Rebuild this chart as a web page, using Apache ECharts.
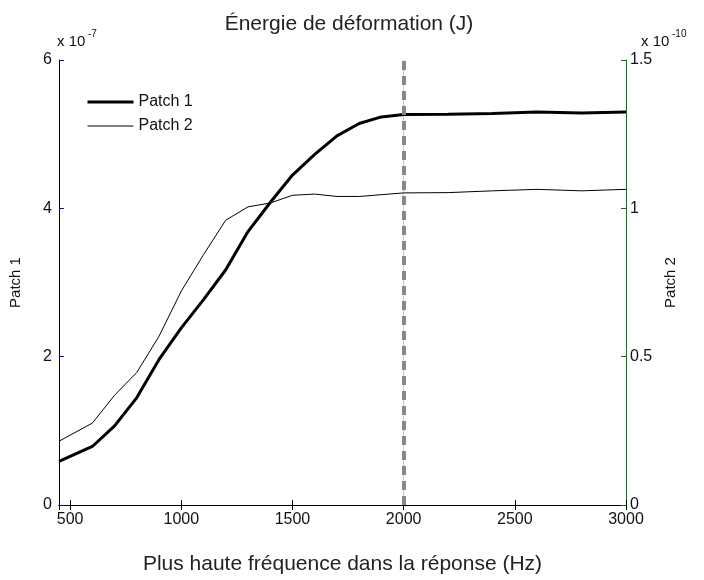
<!DOCTYPE html>
<html>
<head>
<meta charset="utf-8">
<script src="https://cdn.jsdelivr.net/npm/echarts@6/dist/echarts.min.js"></script>
<style>
html,body{margin:0;padding:0;background:#fff;}
#chart{width:704px;height:580px;}
</style>
</head>
<body>
<div id="chart"></div>
<script>
// Frequencies (Hz)
const freq = [450, 600, 700, 800, 900, 1000, 1100, 1200, 1300, 1400, 1500, 1600, 1700, 1800, 1900, 2000, 2200, 2400, 2600, 2800, 3000];
// Patch 1 strain energy, units of 1e-7 J (left axis)
const patch1 = [0.587, 0.789, 1.066, 1.448, 1.962, 2.388, 2.769, 3.172, 3.687, 4.079, 4.449, 4.727, 4.977, 5.144, 5.233, 5.265, 5.270, 5.280, 5.300, 5.285, 5.300];
// Patch 2 strain energy, units of 1e-10 J (right axis)
const patch2 = [0.215, 0.276, 0.370, 0.447, 0.569, 0.721, 0.844, 0.960, 1.005, 1.018, 1.044, 1.048, 1.040, 1.040, 1.046, 1.052, 1.053, 1.059, 1.064, 1.059, 1.064];
const seriesNames = ['Patch 1', 'Patch 2'];
const cutoffFreq = [2000];
const leftExp = '-7';
const rightExp = '-10';
const titleText = 'Énergie de déformation (J)';
const xName = 'Plus haute fréquence dans la réponse (Hz)';

const FONT = "'Liberation Sans', Arial, Helvetica, sans-serif";
const chart = echarts.init(document.getElementById('chart'), null, {renderer: 'canvas'});

const pairs = (xs, ys) => xs.map((x, i) => [x, ys[i]]);
const plain = v => String(v);

chart.setOption({
  backgroundColor: '#fff',
  animation: false,
  textStyle: {fontFamily: FONT, color: '#000'},
  title: {
    text: titleText,
    left: 344, top: 9, textAlign: 'center',
    textStyle: {fontFamily: FONT, fontSize: 21, fontWeight: 'normal', color: '#222'}
  },
  legend: {
    orient: 'vertical',
    left: 81, top: 89,
    itemWidth: 46, itemHeight: 14, itemGap: 8,
    itemStyle: {opacity: 0},
    textStyle: {fontFamily: FONT, fontSize: 16, color: '#111'},
    data: [
      {name: seriesNames[0], lineStyle: {width: 3, color: '#000'}},
      {name: seriesNames[1], lineStyle: {width: 1, color: '#000'}}
    ]
  },
  grid: {left: 58, right: 78, top: 60, bottom: 74},
  xAxis: [{
    type: 'value', min: 450, max: 3000, position: 'bottom',
    name: xName, nameLocation: 'middle', nameGap: 49,
    nameTextStyle: {fontFamily: FONT, fontSize: 21, color: '#222'},
    axisLine: {show: true, lineStyle: {color: '#000', width: 1}},
    axisTick: {show: true, inside: true, length: 5, lineStyle: {color: '#000'}},
    axisLabel: {showMinLabel: false, margin: 7, formatter: plain, fontFamily: FONT, fontSize: 16, color: '#111'},
    splitLine: {show: false}
  }, {
    type: 'value', min: 450, max: 3000, position: 'top',
    axisLine: {show: true, lineStyle: {color: '#000', width: 1}},
    axisTick: {show: true, inside: true, length: 5, lineStyle: {color: '#000'}},
    axisLabel: {show: false},
    splitLine: {show: false}
  }],
  yAxis: [{
    type: 'value', min: 0, max: 6, interval: 2, position: 'left',
    name: seriesNames[0], nameLocation: 'middle', nameGap: 36, nameRotate: 90,
    nameTextStyle: {fontFamily: FONT, fontSize: 15, color: '#111'},
    axisLine: {show: true, lineStyle: {color: '#000', width: 1}},
    axisTick: {show: true, inside: true, length: 5, lineStyle: {color: '#0000ff'}},
    axisLabel: {margin: 7, formatter: plain, fontFamily: FONT, fontSize: 16, color: '#111'},
    splitLine: {show: false}
  }, {
    type: 'value', min: 0, max: 1.5, interval: 0.5, position: 'right',
    name: seriesNames[1], nameLocation: 'middle', nameGap: 32, nameRotate: 90,
    nameTextStyle: {fontFamily: FONT, fontSize: 15, color: '#111'},
    axisLine: {show: true, lineStyle: {color: '#008000', width: 1}},
    axisTick: {show: true, inside: true, length: 5, lineStyle: {color: '#008000'}},
    axisLabel: {margin: 4, formatter: plain, fontFamily: FONT, fontSize: 16, color: '#111'},
    splitLine: {show: false}
  }],
  graphic: [
    {type: 'text', left: 57, top: 34, style: {text: 'x 10', font: "15px " + FONT, fill: '#111'}},
    {type: 'text', left: 88, top: 29, style: {text: leftExp, font: "10px " + FONT, fill: '#111'}},
    {type: 'text', left: 641, top: 34, style: {text: 'x 10', font: "15px " + FONT, fill: '#111'}},
    {type: 'text', left: 672, top: 29, style: {text: rightExp, font: "10px " + FONT, fill: '#111'}}
  ],
  series: [{
    name: seriesNames[0], type: 'line', xAxisIndex: 0, yAxisIndex: 0,
    data: pairs(freq, patch1),
    symbol: 'none', showSymbol: false,
    lineStyle: {color: '#000', width: 3},
    itemStyle: {color: '#000'},
    z: 3,
    markLine: {
      silent: true, symbol: 'none',
      label: {show: false},
      lineStyle: {color: '#888', width: 4, type: [9, 6]},
      data: cutoffFreq.map(f => ({xAxis: f})),
      z: 4
    }
  }, {
    name: seriesNames[1], type: 'line', xAxisIndex: 0, yAxisIndex: 1,
    data: pairs(freq, patch2),
    symbol: 'none', showSymbol: false,
    lineStyle: {color: '#000', width: 1},
    itemStyle: {color: '#000'},
    z: 2,
    markLine: {
      silent: true, symbol: 'none',
      label: {show: false},
      lineStyle: {color: '#c8c8c8', width: 1, type: 'solid'},
      data: cutoffFreq.map(f => ({xAxis: f})),
      z: 1
    }
  }]
});
</script>
</body>
</html>
